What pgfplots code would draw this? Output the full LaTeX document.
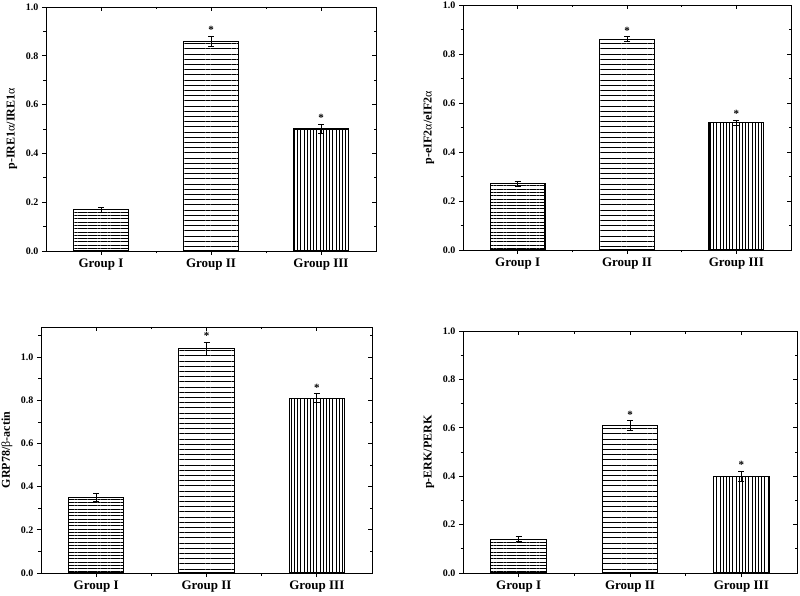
\documentclass[border=0pt]{standalone}
\usepackage{pgfplots}
\pgfplotsset{compat=1.18}
\usepackage{fontspec}
\setmainfont{Liberation Serif}
\usetikzlibrary{patterns.meta}

\pgfplotsset{
 panel/.style={
  scale only axis, anchor=south west,
  xmin=0.5,xmax=3.5,ymin=0,
  xtick={1,2,3}, minor xtick={1.5,2.5},
  xticklabels={Group I,Group II,Group III},
  ytick distance=0.2, minor y tick num=1,
  xtick pos=left, ytick pos=left,
  tick align=outside,
  major tick length=4pt, minor tick length=2.5pt,
  axis line style={line width=0.9pt},
  tick style={black, line width=0.8pt},
  /pgf/number format/.cd, fixed, fixed zerofill, precision=1, assume math mode=true, /pgfplots/.cd,
  yticklabel style={font=\fontsize{10}{12}\selectfont\bfseries},
  xticklabel style={font=\fontsize{13}{15}\selectfont\bfseries},
  every axis y label/.style={at={(axis description cs:0,0.5)}, xshift=-34pt, rotate=90, anchor=center,
     font=\fontsize{12}{14}\selectfont\bfseries},
 },
 panelin/.style={
  scale only axis, anchor=south west,
  xmin=0.5,xmax=3.5,ymin=0,
  xtick={1,2,3}, minor xtick={1.5,2.5},
  ytick distance=0.2, minor y tick num=1,
  xtick pos=right, ytick pos=right, tick align=inside,
  xticklabels={}, yticklabels={},
  axis line style={line width=0.9pt},
  major tick length=4pt, minor tick length=2.5pt,
  tick style={black, line width=0.8pt},
 },
 barbase/.style={ybar, bar shift=0pt, bar width=0.5, draw=black, line width=1.1pt,
  error bars/.cd, y dir=both, y explicit,
  error bar style={line width=0.8pt},
  error mark options={rotate=90, mark size=3pt, line width=0.8pt}, /pgfplots/.cd},
 barI/.style={barbase, pattern={Lines[angle=0,distance=3.3pt,line width=0.9pt]}},
 barII/.style={barbase, pattern={Lines[angle=0,distance=5.2pt,line width=1pt]}},
 barIII/.style={barbase, pattern={Lines[angle=90,distance=3.2pt,line width=1pt]}},
 stars/.style={draw=none, mark=none, nodes near coords={*},
  every node near coord/.append style={font=\fontsize{11}{12}\selectfont\bfseries, anchor=south, yshift=-1pt}},
}

\begin{document}
\begin{tikzpicture}
\useasboundingbox (0,0) rectangle (800pt,595pt);

% Panel 1
\begin{axis}[panel, at={(46pt,344pt)}, width=330pt, height=244pt, ymax=1.0,
  ylabel={p-IRE1\textmd{α}/IRE1\textmd{α}}]
\addplot[barI] coordinates {(1,0.17) +- (0,0.01)};
\addplot[barII] coordinates {(2,0.86) +- (0,0.02)};
\addplot[barIII] coordinates {(3,0.50) +- (0,0.02)};
\addplot[stars] coordinates {(2,0.88) (3,0.52)};
\end{axis}
\begin{axis}[panelin, at={(46pt,344pt)}, width=330pt, height=244pt, ymax=1.0]
\end{axis}

% Panel 2
\begin{axis}[panel, at={(463pt,345pt)}, width=328pt, height=245pt, ymax=1.0,
  ylabel={p-eIF2\textmd{α}/eIF2\textmd{α}}]
\addplot[barI] coordinates {(1,0.27) +- (0,0.01)};
\addplot[barII] coordinates {(2,0.86) +- (0,0.01)};
\addplot[barIII] coordinates {(3,0.52) +- (0,0.01)};
\addplot[stars] coordinates {(2,0.87) (3,0.53)};
\end{axis}
\begin{axis}[panelin, at={(463pt,345pt)}, width=328pt, height=245pt, ymax=1.0]
\end{axis}

% Panel 3
\begin{axis}[panel, at={(41pt,22pt)}, width=331pt, height=246pt, ymax=1.14,
  ylabel={GRP78/\textmd{β}-actin}]
\addplot[barI] coordinates {(1,0.35) +- (0,0.02)};
\addplot[barII] coordinates {(2,1.04) +- (0,0.03)};
\addplot[barIII] coordinates {(3,0.81) +- (0,0.02)};
\addplot[stars] coordinates {(2,1.07) (3,0.83)};
\end{axis}
\begin{axis}[panelin, at={(41pt,22pt)}, width=331pt, height=246pt, ymax=1.14]
\end{axis}

% Panel 4
\begin{axis}[panel, at={(463pt,22pt)}, width=334pt, height=242pt, ymax=1.0,
  ylabel={p-ERK/PERK}]
\addplot[barI] coordinates {(1,0.14) +- (0,0.01)};
\addplot[barII] coordinates {(2,0.61) +- (0,0.02)};
\addplot[barIII] coordinates {(3,0.40) +- (0,0.02)};
\addplot[stars] coordinates {(2,0.63) (3,0.42)};
\end{axis}
\begin{axis}[panelin, at={(463pt,22pt)}, width=334pt, height=242pt, ymax=1.0]
\end{axis}

\end{tikzpicture}
\end{document}
